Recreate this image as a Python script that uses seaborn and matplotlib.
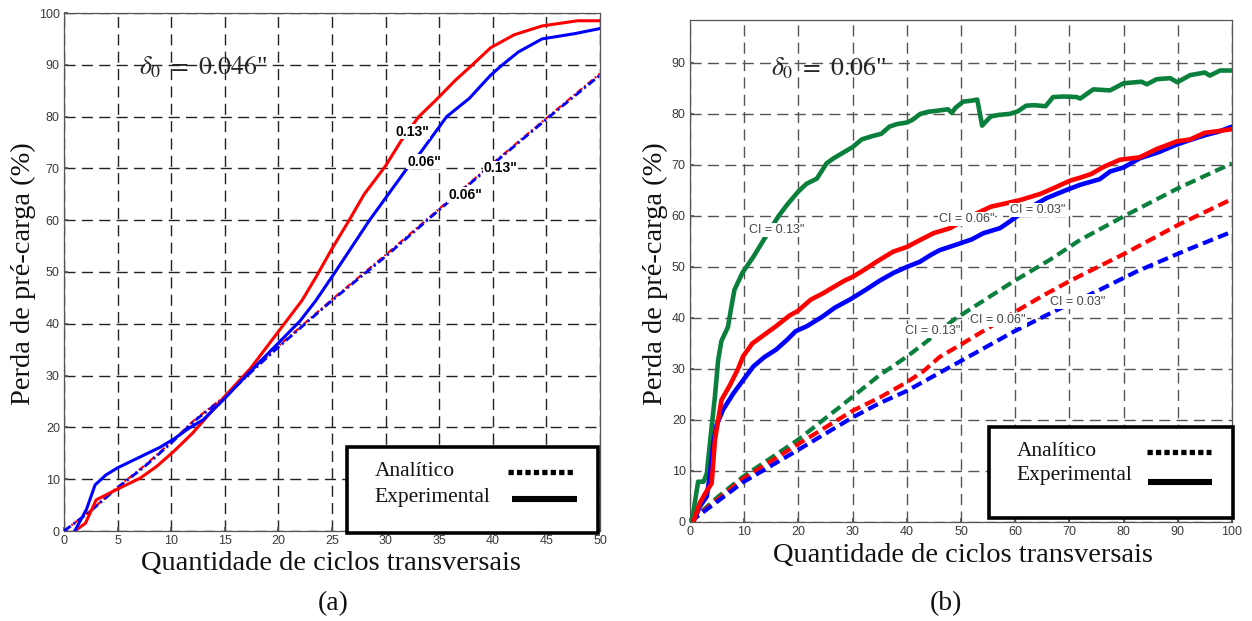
import numpy as np
import pandas as pd
import seaborn as sns
import matplotlib
matplotlib.use("Agg")
import matplotlib.pyplot as plt
from matplotlib.lines import Line2D
from matplotlib.patches import Rectangle

sns.set_theme(style="white")
plt.rcParams["font.family"] = ["Liberation Sans", "DejaVu Sans"]
plt.rcParams["mathtext.fontset"] = "stix"

# ---------------- Panel (a): delta0 = 0.046" ----------------
a_exp013_x = [1.0, 2.0, 3.0, 4.9, 7.1, 8.6, 10.2, 12.0, 15.0, 17.4, 20.0, 22.2, 23.5, 25.0, 26.6, 28.0,
              30.0, 31.5, 33.1, 34.7, 36.5, 38.1, 39.8, 42.0, 44.6, 47.9, 50.0]
a_exp013_y = [0.0, 1.5, 6.0, 8.0, 10.2, 12.4, 15.3, 18.9, 26.0, 31.4, 38.5, 44.5, 49.0, 54.5, 60.0, 65.0,
              70.5, 75.5, 80.0, 83.2, 87.0, 90.0, 93.3, 95.8, 97.5, 98.5, 98.5]
a_exp006_x = [1.0, 2.1, 2.9, 3.9, 5.0, 6.9, 8.9, 10.2, 11.7, 13.0, 15.0, 17.0, 20.0, 22.0, 23.5, 25.3,
              28.5, 32.0, 33.2, 35.7, 37.8, 39.8, 40.9, 42.4, 44.6, 47.6, 50.0]
a_exp006_y = [0.0, 4.2, 8.9, 10.8, 12.2, 14.1, 16.1, 17.7, 19.9, 21.5, 25.6, 30.0, 36.3, 40.5, 44.5, 50.0,
              60.0, 70.0, 72.9, 80.0, 83.5, 88.0, 90.0, 92.5, 95.0, 96.0, 97.0]
a_ana_x = [0.0, 2.4, 4.9, 7.5, 9.9, 12.2, 15.0, 17.0, 20.0, 25.0, 30.0, 35.0, 40.0, 45.0, 50.0]
a_ana013_y = [0.0, 3.8, 8.3, 12.6, 17.0, 21.5, 26.0, 30.0, 35.7, 44.7, 53.3, 62.2, 71.0, 79.7, 88.3]
a_ana006_y = [0.0, 3.7, 8.2, 12.4, 16.8, 21.3, 25.8, 29.8, 35.5, 44.5, 53.0, 62.0, 70.8, 79.5, 88.0]
a_labels = ['0.13"', '0.06"', '0.13"', '0.06"']
a_label_x = [32.5, 33.6, 40.7, 37.4]
a_label_y = [77.1, 71.3, 70.0, 64.9]

# ---------------- Panel (b): delta0 = 0.06" ----------------
b_exp013_x = [0, 0.4, 1.5, 2.5, 3.1, 4.0, 4.6, 5.2, 5.8, 7.0, 7.6, 8.2, 9.7, 11.7, 14.0, 16.3, 18.0, 20.0,
              21.5, 23.4, 25.2, 26.5, 28.1, 30.0, 31.7, 33.5, 35.3, 36.8, 38.2, 40.0, 41.0, 42.5, 43.9,
              45.5, 47.6, 48.3, 49.0, 50.4, 52.0, 53.0, 53.9, 55.5, 57.0, 59.0, 60.5, 62.0, 63.5, 65.6,
              67.0, 69.0, 71.3, 72.0, 74.4, 77.5, 80.0, 83.3, 84.3, 86.1, 88.6, 89.9, 92.3, 95.0, 95.9,
              97.8, 100.0]
b_exp013_y = [0, 0.5, 7.9, 7.9, 9.5, 18.7, 24.6, 31.8, 35.5, 38.2, 42.0, 45.5, 48.9, 52.0, 56.0, 59.9, 62.3,
              64.8, 66.3, 67.3, 70.3, 71.3, 72.3, 73.5, 75.0, 75.6, 76.1, 77.5, 78.0, 78.3, 78.8, 80.0,
              80.4, 80.6, 80.9, 80.2, 81.2, 82.4, 82.6, 82.8, 77.7, 79.5, 79.8, 80.0, 80.5, 81.6, 81.7,
              81.5, 83.3, 83.4, 83.3, 83.0, 84.8, 84.6, 86.0, 86.3, 85.8, 86.8, 87.0, 86.2, 87.6, 88.1,
              87.5, 88.5, 88.5]
b_exp006_x = [0.6, 1.8, 2.8, 4.0, 4.6, 5.8, 7.4, 8.9, 9.8, 11.5, 13.7, 15.9, 18.4, 19.8, 22.3, 24.5, 26.4,
              28.5, 30.1, 32.4, 34.4, 37.5, 40.0, 42.5, 44.9, 48.0, 51.9, 55.5, 57.2, 60.9, 64.6, 67.0,
              70.1, 72.0, 74.0, 76.3, 79.3, 83.0, 86.1, 89.8, 92.3, 95.0, 97.3, 100.0]
b_exp006_y = [0, 3.7, 5.6, 7.6, 16.1, 23.9, 26.9, 30.1, 32.5, 35.0, 36.7, 38.4, 40.5, 41.3, 43.6, 44.8,
              46.0, 47.3, 48.1, 49.6, 51.0, 53.0, 53.9, 55.3, 56.6, 57.6, 60.0, 61.8, 62.2, 63.1, 64.3,
              65.4, 66.9, 67.5, 68.2, 69.6, 71.0, 71.5, 73.1, 74.6, 75.0, 76.3, 76.6, 77.0]
b_exp003_x = [0.6, 1.8, 3.1, 3.7, 4.3, 4.9, 6.1, 8.0, 9.8, 11.7, 13.7, 15.9, 18.0, 19.5, 21.6, 24.5,
              26.7, 29.5, 32.4, 35.0, 37.5, 40.0, 42.4, 44.5, 46.1, 49.8, 52.0, 54.1, 57.2, 59.0, 62.0,
              65.8, 69.5, 72.0, 75.6, 77.5, 80.0, 83.0, 86.5, 89.8, 92.9, 95.3, 97.5, 100.0]
b_exp003_y = [0, 3.0, 5.0, 9.5, 15.4, 19.0, 22.0, 25.2, 27.8, 30.5, 32.3, 33.8, 35.8, 37.4, 38.4, 40.3,
              42.0, 43.6, 45.5, 47.3, 48.8, 50.0, 51.0, 52.4, 53.3, 54.6, 55.4, 56.6, 57.6, 58.9, 61.2,
              63.5, 65.1, 66.1, 67.2, 68.7, 69.5, 71.3, 72.5, 74.0, 75.1, 75.9, 76.5, 77.5]
b_ana013_x = [0, 5.0, 9.8, 19.9, 27.7, 35.0, 40.0, 43.7, 48.6, 59.6, 66.4, 72.0, 80.0, 90.0, 100.0]
b_ana013_y = [0, 4.8, 8.9, 16.1, 22.6, 28.8, 32.4, 35.4, 39.6, 47.1, 51.4, 55.3, 59.9, 65.4, 70.3]
b_ana006_x = [0, 9.8, 20.0, 30.0, 35.0, 40.0, 43.0, 46.0, 50.0, 55.0, 60.0, 65.0, 70.0, 80.0, 90.0, 100.0]
b_ana006_y = [0, 8.5, 15.3, 21.8, 24.4, 27.4, 29.5, 32.3, 34.8, 38.0, 41.2, 44.3, 47.2, 52.5, 58.2, 63.3]
b_ana003_x = [0, 9.8, 19.9, 30.0, 35.0, 40.0, 49.2, 59.7, 67.0, 75.0, 82.4, 91.6, 100.0]
b_ana003_y = [0, 7.8, 14.1, 20.5, 23.3, 25.7, 31.1, 37.3, 41.2, 45.2, 49.1, 53.3, 56.9]
b_labels = ['CI = 0.13"', 'CI = 0.06"', 'CI = 0.03"', 'CI = 0.13"', 'CI = 0.06"', 'CI = 0.03"']
b_label_x = [16.0, 51.0, 64.2, 44.7, 56.8, 71.6]
b_label_y = [57.3, 59.4, 61.2, 37.5, 39.6, 43.2]

legend_labels = ["Analítico", "Experimental"]
RED, BLUE, GREEN = "#ff0000", "#0000ff", "#0b7f3c"

W, H = 1252, 621
fig = plt.figure(figsize=(W / 100, H / 100), dpi=100)
fig.patch.set_facecolor("white")
ax1 = fig.add_axes([64 / W, (H - 531) / H, 536 / W, 518 / H])
ax2 = fig.add_axes([690 / W, (H - 522) / H, 542 / W, 502 / H])


def line(ax, x, y, color, lw, ls="-", z=3):
    sns.lineplot(x=np.asarray(x, float), y=np.asarray(y, float), ax=ax, color=color, linewidth=lw,
                 linestyle=ls, sort=False, estimator=None, zorder=z)


def style_axes(ax, xmax, ymax, xstep, yticks, gridcolor):
    ax.set_xlim(0, xmax)
    ax.set_ylim(0, ymax)
    ax.set_xticks(np.arange(0, xmax + 0.1, xstep))
    ax.set_yticks(yticks)
    ax.grid(True, color=gridcolor, linestyle=(0, (8, 4.5)), linewidth=1.0, zorder=1)
    ax.set_axisbelow(True)
    ax.tick_params(axis="both", labelsize=9, labelcolor="#3a3a3a", direction="in", length=3,
                   color="#555555", pad=3, left=True, bottom=True)
    for s in ax.spines.values():
        s.set_color("#555555")
        s.set_linewidth(0.9)
    ax.set_xlabel("")
    ax.set_ylabel("")


def legend_box(ax, rect, text_x, rows_y, dot_x, dot_y, solid_x, solid_y):
    ax.add_patch(Rectangle(rect[:2], rect[2], rect[3], transform=ax.transAxes, facecolor="white",
                           edgecolor="black", linewidth=2.6, zorder=6, clip_on=False))
    for lab, y in zip(legend_labels, rows_y):
        ax.text(text_x, y, lab, transform=ax.transAxes, ha="left", va="center", fontsize=15.5,
                family="Liberation Serif", color="#111111", zorder=7)
    ax.add_line(Line2D(dot_x, [dot_y, dot_y], transform=ax.transAxes, color="black", lw=3.8,
                       linestyle=(0, (1.0, 0.6)), zorder=7, clip_on=False))
    ax.add_line(Line2D(solid_x, [solid_y, solid_y], transform=ax.transAxes, color="black", lw=4.4,
                       solid_capstyle="butt", zorder=7, clip_on=False))


# ---- panel (a)
style_axes(ax1, 50, 100, 5, np.arange(0, 101, 10), "#222222")
line(ax1, a_ana_x, a_ana013_y, RED, 1.6, (0, (3, 1.2, 0.8, 1.2)), 3)
line(ax1, a_ana_x, a_ana006_y, BLUE, 2.0, (0, (3, 1.2, 0.8, 1.2)), 3)
line(ax1, a_exp013_x, a_exp013_y, RED, 2.2)
line(ax1, a_exp006_x, a_exp006_y, BLUE, 2.2)
for t, x, y in zip(a_labels, a_label_x, a_label_y):
    ax1.text(x, y, t, ha="center", va="center", fontsize=10, fontweight="bold", color="black", zorder=5,
             bbox=dict(facecolor="white", edgecolor="none", pad=0.6))
ax1.text(6.95, 89.6, r'$\delta_0\ =\ 0.046$"', ha="left", va="center", fontsize=18.5,
         family="Liberation Serif", zorder=5)
legend_box(ax1, (0.5286, -0.004, 0.4684, 0.1656), 0.580, (0.114, 0.064),
           (0.828, 0.950), 0.114, (0.835, 0.957), 0.062)

# ---- panel (b)
style_axes(ax2, 100, 98.4, 10, np.arange(0, 91, 10), "#555555")
dash = (0, (2.6, 1.3))
line(ax2, b_ana013_x, b_ana013_y, GREEN, 3.0, dash)
line(ax2, b_ana006_x, b_ana006_y, RED, 3.0, dash)
line(ax2, b_ana003_x, b_ana003_y, BLUE, 3.0, dash)
line(ax2, b_exp013_x, b_exp013_y, GREEN, 3.3)
line(ax2, b_exp003_x, b_exp003_y, BLUE, 3.3)
line(ax2, b_exp006_x, b_exp006_y, RED, 3.3)
for t, x, y in zip(b_labels, b_label_x, b_label_y):
    ax2.text(x, y, t, ha="center", va="center", fontsize=9, color="#444444", zorder=5,
             bbox=dict(facecolor="white", edgecolor="none", pad=0.8))
ax2.text(14.9, 89.0, r'$\delta_0\ =\ 0.06$"', ha="left", va="center", fontsize=18.5,
         family="Liberation Serif", zorder=5)
legend_box(ax2, (0.552, 0.0074, 0.4504, 0.1812), 0.603, (0.140, 0.092),
           (0.843, 0.961), 0.1394, (0.845, 0.963), 0.0803)

# ---- axis titles and captions
serif = dict(family="Liberation Serif", color="#111111")
fig.text(23 / W, 1 - 273.5 / H, "Perda de pré-carga (%)", rotation=90, ha="center", va="center",
         fontsize=20.5, **serif)
fig.text(655 / W, 1 - 273.5 / H, "Perda de pré-carga (%)", rotation=90, ha="center", va="center",
         fontsize=20.5, **serif)
fig.text(331 / W, 1 - 563 / H, "Quantidade de ciclos transversais", ha="center", va="center",
         fontsize=20.5, **serif)
fig.text(963 / W, 1 - 556 / H, "Quantidade de ciclos transversais", ha="center", va="center",
         fontsize=20.5, **serif)
fig.text(333 / W, 1 - 604 / H, "(a)", ha="center", va="center", fontsize=20, **serif)
fig.text(946 / W, 1 - 604 / H, "(b)", ha="center", va="center", fontsize=20, **serif)

fig.savefig("out.png", dpi=100, facecolor="white")
